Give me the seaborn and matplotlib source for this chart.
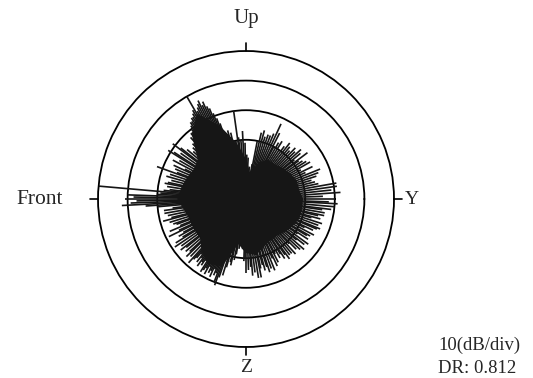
import numpy as np
import pandas as pd
import matplotlib
matplotlib.use("Agg")
import matplotlib.pyplot as plt
import seaborn as sns

# Level per direction in dB (1 degree steps, counter-clockwise from the Y axis)
spike_db = [
    -20, -38, -24, -40, -18, -36, -21, -39, -19, -37,
    -19, -37, -25, -40, -26, -36, -27, -38, -25, -40,
    -24, -40, -23, -38, -28, -39, -25, -37, -29, -40,
    -25, -40, -26, -38, -27, -39, -28, -24, -40, -29,
    -26, -38, -25, -40, -27, -37, -26, -39, -28, -40,
    -27, -39, -26, -40, -28, -38, -30, -40, -27, -39,
    -28, -40, -30, -25, -38, -22, -40, -26, -39, -27,
    -40, -27, -38, -28, -40, -26, -39, -27, -40, -30,
    -38, -43, -41, -44, -39, -43, -40, -36, -42, -35,
    -40, -31, -38, -27, -41, -30, -39, -29, -20, -40,
    -30, -38, -31, -27, -39, -26, -28, -40, -27, -23,
    -21, -19, -17, -16, -14, -15, -13, -14, -15, -16,
    -10, -15, -16, -17, -17, -18, -18, -19, -20, -21,
    -21, -24, -22, -30, -24, -36, -25, -37, -26, -40,
    -24, -38, -22, -19, -40, -23, -37, -21, -19, -39,
    -24, -39, -22, -38, -27, -23, -40, -24, -37, -25,
    -18, -39, -23, -37, -22, -40, -24, -38, -23, -22,
    -38, -23, -40, -24, -22, 0, -21, -20, -10, -12,
    -9, -13, -11, -8, -16, -20, -38, -25, -22, -39,
    -22, -39, -23, -37, -24, -21, -40, -23, -38, -24,
    -25, -39, -26, -22, -38, -25, -21, -40, -26, -24,
    -38, -25, -22, -40, -21, -37, -23, -39, -22, -24,
    -40, -23, -37, -24, -22, -39, -23, -38, -21, -23,
    -24, -26, -23, -25, -22, -24, -23, -25, -21, -22,
    -23, -21, -24, -22, -23, -21, -24, -22, -23, -20,
    -19, -22, -38, -23, -26, -39, -28, -27, -40, -29,
    -31, -40, -33, -42, -35, -43, -33, -41, -29, -30,
    -25, -38, -26, -40, -27, -24, -39, -25, -40, -23,
    -38, -23, -26, -40, -27, -25, -39, -26, -24, -40,
    -25, -38, -24, -40, -28, -25, -39, -26, -29, -40,
    -27, -39, -28, -26, -40, -27, -25, -38, -26, -40,
    -26, -39, -25, -40, -29, -26, -38, -25, -40, -24,
    -39, -28, -25, -40, -24, -38, -29, -25, -40, -26,
    -25, -39, -24, -40, -28, -25, -38, -24, -23, -40,
    -24, -39, -23, -38, -27, -24, -40, -25, -23, -39,
    -23, -38, -24, -21, -40, -20, -37, -19, -22, -39,
]
spike_deg = list(range(360))

# Dense body of the pattern (10 degree steps)
core_deg = list(range(0, 360, 10))
core_db = [-31, -32, -32, -33, -34, -35, -35, -37, -42, -37,
           -31, -24, -17, -22, -29, -30, -29, -28, -27, -29,
           -30, -30, -30, -27, -25, -26, -35, -32, -31, -33,
           -34, -34, -33, -32, -31, -31]

ring_db = [-30, -20, -10]
r_min, r_max = -50, 0
direction_labels = ["Y", "Up", "Front", "Z"]
scale_text = "10(dB/div)"
dr_text = "DR: 0.812"

sns.set_theme(style="white")
plt.rcParams["font.family"] = ["Liberation Serif", "DejaVu Serif"]

ink = "#161616"
fig = plt.figure(figsize=(5.33, 3.78), dpi=100)
ax = fig.add_axes([0.1839, 0.0820, 0.5553, 0.7831], projection="polar")
ax.set_facecolor("white")
ax.set_ylim(r_min, r_max)

core = pd.DataFrame({
    "theta": np.deg2rad(core_deg + core_deg[:1]),
    "level": core_db + core_db[:1],
})
sns.lineplot(data=core, x="theta", y="level", sort=False, estimator=None,
             color=ink, lw=1.0, ax=ax, zorder=3)
ax.fill(core["theta"], core["level"], color=ink, zorder=3, lw=0)

ax.vlines(np.deg2rad(spike_deg), r_min, spike_db, color=ink, lw=1.2, zorder=4)

ax.set_xlabel("")
ax.set_ylabel("")
ax.set_xticks([])
ax.set_yticks(ring_db)
ax.set_yticklabels([])
ax.yaxis.grid(True, color="black", lw=1.3)
ax.set_axisbelow(True)
ax.spines["polar"].set_color("black")
ax.spines["polar"].set_linewidth(1.3)

# short tick marks outside the outer ring at the four main directions
for a in (0, 90, 180, 270):
    t = np.deg2rad(a)
    ax.plot([t, t], [r_max, r_max + 2.6], color="black", lw=1.2, clip_on=False)

fig.text(0.773, 0.473, direction_labels[0], ha="center", va="center", fontsize=14)
fig.text(0.4615, 0.950, direction_labels[1], ha="center", va="center", fontsize=15)
fig.text(0.075, 0.471, direction_labels[2], ha="center", va="center", fontsize=15.5)
fig.text(0.4615, 0.027, direction_labels[3], ha="center", va="center", fontsize=14)
fig.text(0.822, 0.087, scale_text, ha="left", va="center", fontsize=13.5)
fig.text(0.822, 0.026, dr_text, ha="left", va="center", fontsize=13.5)

fig.savefig("out.png", dpi=100, facecolor="white")
